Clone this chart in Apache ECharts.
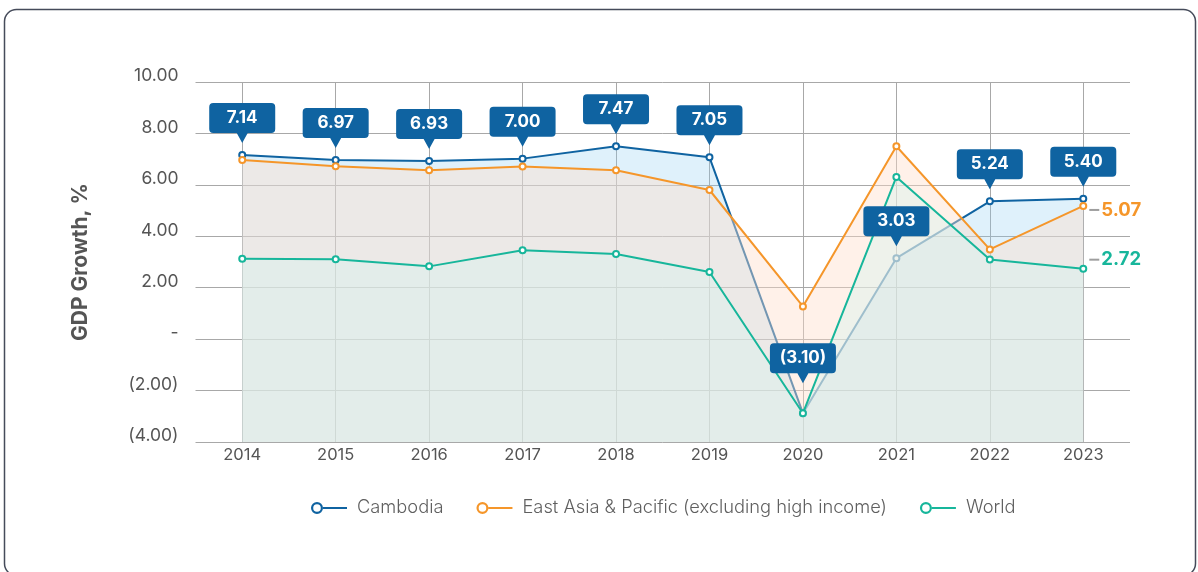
<!DOCTYPE html>
<html>
<head>
<meta charset="utf-8">
<script src="https://cdn.jsdelivr.net/npm/echarts@6/dist/echarts.min.js"></script>
<style>
  html, body { margin: 0; padding: 0; background: #ffffff; }
  #chart { width: 1198px; height: 572px; }
</style>
</head>
<body>
<div id="chart"></div>
<script>
// ---- data ----
const years = ['2014', '2015', '2016', '2017', '2018', '2019', '2020', '2021', '2022', '2023'];
const cambodia = [7.16, 6.97, 6.93, 7.02, 7.50, 7.07, -2.88, 3.15, 5.36, 5.46];
const cambodiaLabels = ['7.14', '6.97', '6.93', '7.00', '7.47', '7.05', '(3.10)', '3.03', '5.24', '5.40'];
const eastAsia = [6.97, 6.72, 6.57, 6.71, 6.57, 5.80, 1.27, 7.50, 3.49, 5.18];
const eastAsiaEndLabel = '5.07';
const world = [3.13, 3.11, 2.83, 3.46, 3.31, 2.61, -2.88, 6.31, 3.10, 2.74];
const worldEndLabel = '2.72';
const yTickLabels = ['(4.00)', '(2.00)', '-', '2.00', '4.00', '6.00', '8.00', '10.00'];
const seriesNames = ['Cambodia', 'East Asia & Pacific (excluding high income)', 'World'];

const C_BLUE = '#0f63a1';
const C_ORANGE = '#f5962a';
const C_TEAL = '#17b69b';
const C_GRID = '#a8a8a8';
const FONT = 'Inter, "Noto Sans", sans-serif';

const Y_MIN = -4, Y_MAX = 10, Y_INT = 2;

const calloutPath = 'path://M4,0 H62 Q66,0 66,4 V26 Q66,30 62,30 H38.5 L33,40 L27.5,30 H4 Q0,30 0,26 V4 Q0,0 4,0 Z';
const legendIcon = 'path://M0,6 A6,6 0 1,1 12,6 A6,6 0 1,1 0,6 Z M2.2,6 A3.8,3.8 0 1,0 9.8,6 A3.8,3.8 0 1,0 2.2,6 Z M12,5 H36 V7 H12 Z';

function endLabel(text, color, dy) {
  return {
    show: true,
    position: 'right',
    distance: 2,
    offset: [0, dy],
    formatter: '{l|}{v|' + text + '}',
    rich: {
      l: { width: 10, height: 2, backgroundColor: '#9e9e9e', padding: 0 },
      v: { color: color, fontSize: 18.5, fontWeight: 'bold', fontFamily: FONT, padding: [0, 0, 0, 2] }
    }
  };
}

const chart = echarts.init(document.getElementById('chart'), null, { renderer: 'canvas' });

const option = {
  animation: false,
  backgroundColor: '#ffffff',
  graphic: [{
    type: 'rect',
    shape: { x: 4.5, y: 9.5, width: 1191, height: 566, r: 12 },
    style: { fill: 'none', stroke: '#454b5a', lineWidth: 1.5 },
    z: 100, silent: true
  }],
  grid: { left: 195.5, right: 68, top: 82, bottom: 130, containLabel: false },
  legend: {
    data: seriesNames,
    left: 306,
    top: 494,
    itemWidth: 36,
    itemHeight: 12,
    itemGap: 33,
    icon: legendIcon,
    textStyle: { color: '#5f5f5f', fontSize: 18.3, fontWeight: 300, fontFamily: FONT, padding: [0, 0, 0, 5] }
  },
  xAxis: {
    type: 'category',
    data: years,
    boundaryGap: true,
    axisLine: { show: false },
    axisTick: { show: false },
    splitLine: { show: false },
    axisLabel: { color: '#555555', fontSize: 16.5, fontFamily: FONT, margin: 5 }
  },
  yAxis: {
    type: 'value',
    min: Y_MIN, max: Y_MAX, interval: Y_INT,
    name: 'GDP Growth, %',
    nameLocation: 'middle',
    nameGap: 104,
    nameTextStyle: { color: '#555555', fontSize: 21, fontWeight: 'bold', fontFamily: FONT },
    axisLine: { show: false },
    axisTick: { show: false },
    splitLine: { lineStyle: { color: C_GRID, width: 1 } },
    axisLabel: {
      color: '#555555', fontSize: 17.5, fontFamily: FONT, margin: 17,
      verticalAlign: 'bottom', lineHeight: 12,
      formatter: function (v) { return yTickLabels[Math.round((v - Y_MIN) / Y_INT)]; }
    }
  },
  series: [
    {
      name: 'vgrid', type: 'line', data: [], z: 0, silent: true,
      markLine: {
        silent: true, symbol: 'none', animation: false, z: 0, zlevel: 0,
        label: { show: false },
        lineStyle: { color: C_GRID, width: 1, type: 'solid' },
        emphasis: { disabled: true },
        data: years.map(function (y) { return { xAxis: y }; })
      }
    },
    {
      name: seriesNames[0], type: 'line', data: cambodia,
      symbol: 'emptyCircle', symbolSize: 6,
      lineStyle: { color: C_BLUE, width: 2 },
      itemStyle: { color: C_BLUE, borderWidth: 1.5 },
      areaStyle: { color: 'rgba(140,205,240,0.40)', origin: 'start' },
      z: 2
    },
    {
      name: seriesNames[1], type: 'line',
      symbol: 'emptyCircle', symbolSize: 6,
      lineStyle: { color: C_ORANGE, width: 2 },
      itemStyle: { color: C_ORANGE, borderWidth: 1.5 },
      areaStyle: { color: 'rgba(255,222,202,0.60)', origin: 'start' },
      label: { show: false },
      z: 3,
      data: eastAsia.map(function (v, i) {
        return i === eastAsia.length - 1 ? { value: v, label: endLabel(eastAsiaEndLabel, C_ORANGE, 4) } : v;
      })
    },
    {
      name: seriesNames[2], type: 'line',
      symbol: 'emptyCircle', symbolSize: 6,
      lineStyle: { color: C_TEAL, width: 2 },
      itemStyle: { color: C_TEAL, borderWidth: 1.5 },
      areaStyle: { color: 'rgba(216,244,238,0.62)', origin: 'start' },
      z: 4,
      data: world.map(function (v, i) {
        return i === world.length - 1 ? { value: v, label: endLabel(worldEndLabel, C_TEAL, -9) } : v;
      })
    },
    {
      name: 'callouts', type: 'scatter',
      z: 10,
      silent: true,
      symbol: calloutPath,
      symbolSize: [66, 40],
      itemStyle: { color: C_BLUE, opacity: 1 },
      label: {
        show: true, position: 'inside', offset: [0, -5],
        color: '#ffffff', fontSize: 17, fontWeight: 'bold', fontFamily: FONT
      },
      data: cambodia.map(function (v, i) {
        return {
          value: v,
          symbolOffset: [0, i === 6 ? -50 : -32],
          label: { formatter: cambodiaLabels[i] }
        };
      })
    }
  ]
};

chart.setOption(option);
</script>
</body>
</html>
